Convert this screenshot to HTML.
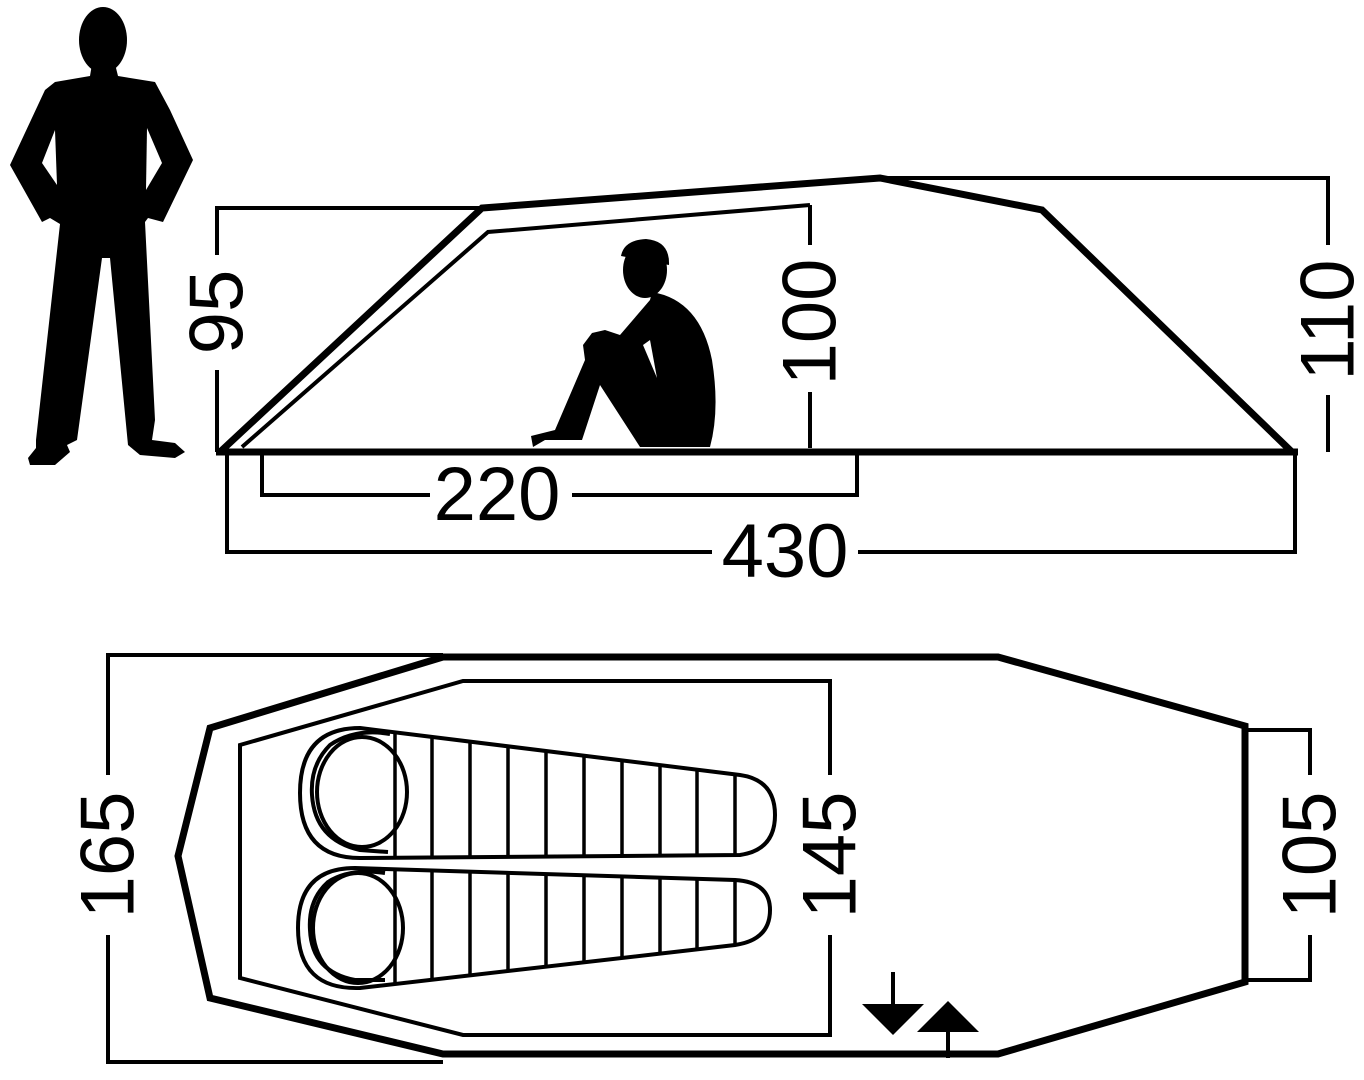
<!DOCTYPE html>
<html><head><meta charset="utf-8"><style>
html,body{margin:0;padding:0;background:#fff}
svg{display:block}
text{font-family:"Liberation Sans","DejaVu Sans",sans-serif;font-size:76px;fill:#000}
</style></head><body>
<svg width="1364" height="1080" viewBox="0 0 1364 1080" xmlns="http://www.w3.org/2000/svg">
<!-- standing person -->
<g fill="#000">
<ellipse cx="103" cy="40" rx="24" ry="33"/>
<path d="M92,64 L115,64 L118,76 L155,82 L170,110 L193,160 L163,222 L148,218 L145,222 L155,420 L152,440 L175,443 L185,452 L175,458 L140,455 L128,445 L110,258 L102,258 L77,440 L67,445 L70,452 L55,465 L30,465 L28,458 L36,448 L36,440 L60,224 L50,218 L42,222 L10,165 L45,90 L55,82 L90,76 Z"/>
</g>
<g fill="#fff">
<path d="M55,130 L42,163 L57,185 Z"/>
<path d="M147,128 L162,163 L146,190 Z"/>
</g>
<!-- seated person -->
<g fill="#000">
<ellipse cx="645" cy="270" rx="22" ry="28"/>
<path d="M621,256 Q624,240 646,239 Q670,241 669,265 Z"/>
<path d="M652,292 Q700,300 712,360 Q720,410 710,447 L640,447 L600,385 L582,440 L545,440 L533,447 L531,436 L555,430 L585,360 L583,345 L592,333 L605,330 L620,335 L650,300 Z"/>
</g>
<path d="M643,345 L657,378 L650,340 Z" fill="#fff"/>
<!-- side view -->
<g fill="none" stroke="#000" stroke-linejoin="miter">
<polyline points="220,452 482,208 880,178 1042,210 1292,452" stroke-width="7"/>
<line x1="216" y1="452" x2="1298" y2="452" stroke-width="7"/>
<polyline points="242,447 488,232 810,205" stroke-width="4"/>
<g stroke-width="4">
<polyline points="480,208 217,208 217,255"/>
<line x1="217" y1="370" x2="217" y2="452"/>
<line x1="810" y1="205" x2="810" y2="245"/>
<line x1="810" y1="392" x2="810" y2="448"/>
<polyline points="880,178 1328,178 1328,245"/>
<line x1="1328" y1="395" x2="1328" y2="452"/>
<polyline points="262,455 262,495 430,495"/>
<polyline points="572,495 857,495 857,455"/>
<polyline points="227,455 227,552 712,552"/>
<polyline points="858,552 1295,552 1295,455"/>
</g>
</g>
<text x="217" y="312" text-anchor="middle" dominant-baseline="central" transform="rotate(-90 217 312)">95</text>
<text x="810" y="322" text-anchor="middle" dominant-baseline="central" transform="rotate(-90 810 322)">100</text>
<text x="1328" y="320" text-anchor="middle" dominant-baseline="central" transform="rotate(-90 1328 320)">110</text>
<text x="497" y="520" text-anchor="middle">220</text>
<text x="785" y="577" text-anchor="middle">430</text>
<!-- floor plan -->
<g fill="none" stroke="#000">
<polygon points="443,657 998,657 1245,726 1245,982 998,1054 443,1054 210,998 178,856 210,728" stroke-width="7"/>
<g stroke-width="4">
<polyline points="443,655 108,655 108,775"/>
<polyline points="108,935 108,1062 443,1062"/>
<polyline points="830,775 830,681 463,681 240,745 240,978 463,1035 830,1035 830,935"/>
<polyline points="1245,730 1310,730 1310,775"/>
<polyline points="1310,935 1310,980 1245,980"/>
<path d="M360,728 L740,775 Q775,780 775,815 Q775,850 740,855 L360,858 Q300,858 300,793 Q300,728 360,728 Z"/>
<path d="M390,734 Q355,728 330,745 Q310,765 312,795 Q315,840 360,850 L388,852"/>
<ellipse cx="362" cy="792" rx="45" ry="55"/>
<path d="M355,868 L735,880 Q770,882 770,910 Q770,940 735,945 L360,988 Q298,990 298,928 Q298,868 355,868 Z"/>
<path d="M385,873 Q350,868 328,882 Q308,900 310,930 Q312,972 355,980 L385,980"/>
<ellipse cx="358" cy="928" rx="45" ry="55"/>
</g>
<g stroke-width="3.5">
<line x1="395" y1="732" x2="395" y2="858"/><line x1="432" y1="737" x2="432" y2="858"/>
<line x1="470" y1="742" x2="470" y2="857"/><line x1="508" y1="746" x2="508" y2="857"/>
<line x1="546" y1="751" x2="546" y2="857"/><line x1="584" y1="756" x2="584" y2="857"/>
<line x1="622" y1="760" x2="622" y2="856"/><line x1="660" y1="765" x2="660" y2="856"/>
<line x1="697" y1="770" x2="697" y2="856"/><line x1="735" y1="774" x2="735" y2="855"/>
<line x1="395" y1="869" x2="395" y2="983"/><line x1="432" y1="870" x2="432" y2="979"/>
<line x1="470" y1="872" x2="470" y2="975"/><line x1="508" y1="873" x2="508" y2="971"/>
<line x1="546" y1="874" x2="546" y2="966"/><line x1="584" y1="875" x2="584" y2="962"/>
<line x1="622" y1="876" x2="622" y2="958"/><line x1="660" y1="877" x2="660" y2="953"/>
<line x1="697" y1="879" x2="697" y2="949"/><line x1="735" y1="880" x2="735" y2="945"/>
</g>
<g stroke-width="4">
<line x1="893" y1="972" x2="893" y2="1005"/>
<line x1="948" y1="1030" x2="948" y2="1058"/>
</g>
</g>
<polygon points="862,1004 924,1004 893,1035" fill="#000"/>
<polygon points="917,1032 979,1032 948,1001" fill="#000"/>
<text x="108" y="855" text-anchor="middle" dominant-baseline="central" transform="rotate(-90 108 855)">165</text>
<text x="830" y="855" text-anchor="middle" dominant-baseline="central" transform="rotate(-90 830 855)">145</text>
<text x="1310" y="855" text-anchor="middle" dominant-baseline="central" transform="rotate(-90 1310 855)">105</text>
</svg>
</body></html>
